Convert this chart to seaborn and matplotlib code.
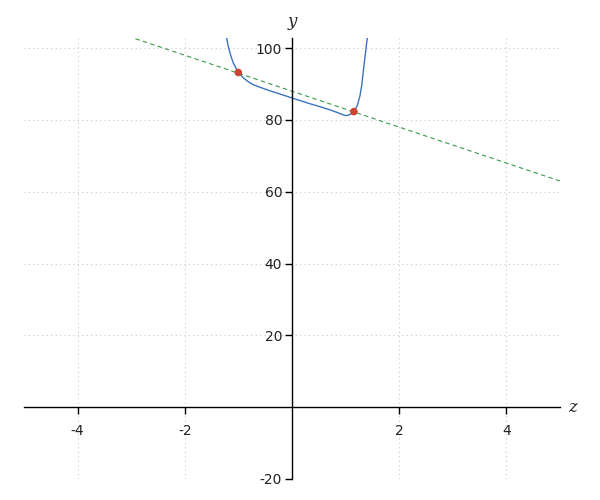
import matplotlib
matplotlib.use("Agg")
import matplotlib.pyplot as plt
import seaborn as sns
import pandas as pd

# curve
curve_x = [-1.218, -1.19, -1.157, -1.125, -1.095, -1.05, -1.0, -0.95, -0.908, -0.82, -0.722,
           -0.58, -0.41, -0.2, 0.0, 0.17, 0.336, 0.52, 0.709, 0.84, 0.957, 1.0, 1.05, 1.11,
           1.163, 1.22, 1.269, 1.30, 1.33, 1.36, 1.38, 1.41]
curve_y = [102.8, 100.6, 98.7, 97.2, 95.9, 94.6, 93.3, 92.4, 91.7, 90.7, 89.8,
           89.0, 88.1, 87.1, 86.1, 85.3, 84.5, 83.7, 82.8, 82.1, 81.4, 81.2, 81.3, 81.7,
           82.4, 84.0, 86.6, 89.3, 93.1, 97.0, 99.6, 103.1]

line_x = [-2.92, 5.0]
line_y = [102.6, 63.0]

pts_x = [-1.0, 1.157]
pts_y = [93.2, 82.3]

xticks = [-4, -2, 2, 4]
yticks = [-20, 20, 40, 60, 80, 100]

sns.set_style("white")
plt.rcParams["axes.unicode_minus"] = False

fig = plt.figure(figsize=(6, 5), dpi=100)
ax = fig.add_axes([0.04, 0.042, 0.893, 0.882])

sns.lineplot(x=line_x, y=line_y, ax=ax, color="#3a9a48", lw=0.8, linestyle=(0, (4, 3)))
sns.lineplot(data=pd.DataFrame({"z": curve_x, "y": curve_y}), x="z", y="y", ax=ax,
             color="#3b73c0", lw=1.0, sort=False)
sns.scatterplot(x=pts_x, y=pts_y, ax=ax, color="#cc4433", s=30, edgecolor="none", zorder=5)

ax.set_xlim(-5, 5)
ax.set_ylim(-20, 102.8)
ax.set_xticks(xticks)
ax.set_yticks(yticks)
ax.set_xlabel("")
ax.set_ylabel("")

ax.spines["left"].set_position(("data", 0))
ax.spines["bottom"].set_position(("data", 0))
ax.spines["top"].set_visible(False)
ax.spines["right"].set_visible(False)
for s in ("left", "bottom"):
    ax.spines[s].set_color("black")
    ax.spines[s].set_linewidth(1.0)

ax.tick_params(axis="x", bottom=True, direction="out", length=5, width=1, pad=7,
               labelsize=10, colors="black", labelcolor="#222222")
ax.tick_params(axis="y", left=True, direction="out", length=5, width=1, pad=2,
               labelsize=10, colors="black", labelcolor="#222222")
ax.grid(True, color="#c8c8c8", linestyle=(0, (1, 3)), linewidth=0.8)

ax.text(5.15, 0, "z", fontstyle="italic", family="DejaVu Serif", fontsize=12,
        ha="left", va="center")
ax.text(0, 105, "y", fontstyle="italic", family="DejaVu Serif", fontsize=12,
        ha="center", va="bottom", clip_on=False)

fig.savefig("out.png", dpi=100)
